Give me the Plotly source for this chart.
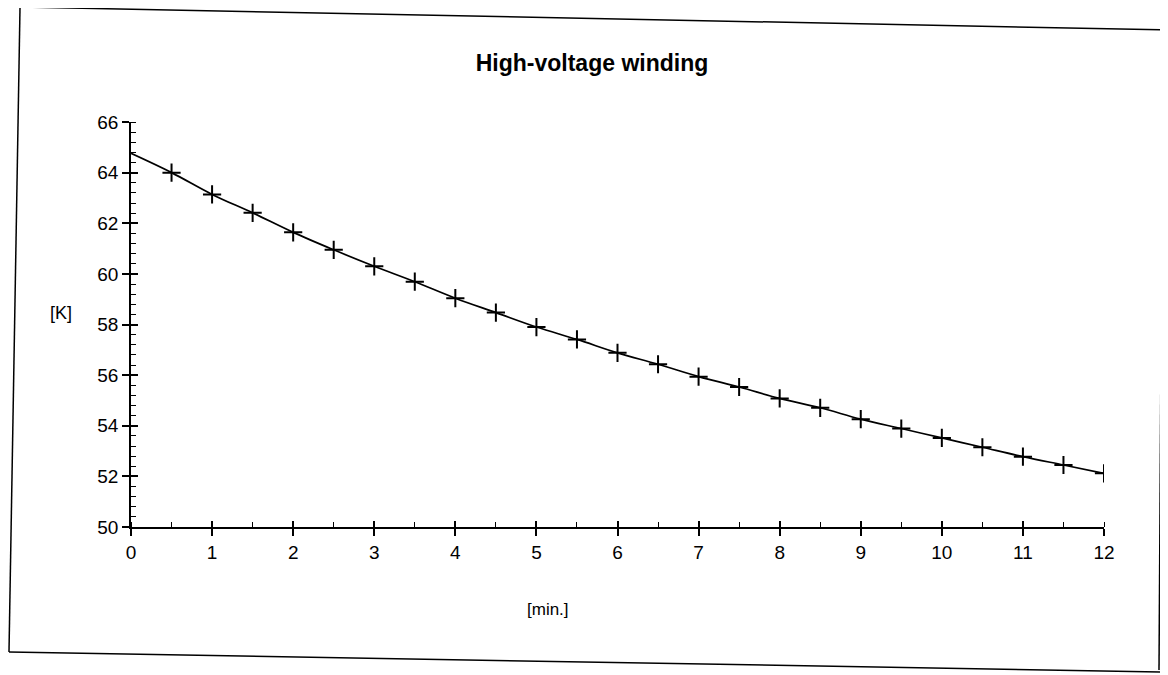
import plotly.graph_objects as go

# ---- data ----
minutes = [0, 0.5, 1, 1.5, 2, 2.5, 3, 3.5, 4, 4.5, 5, 5.5, 6, 6.5, 7, 7.5,
           8, 8.5, 9, 9.5, 10, 10.5, 11, 11.5, 12]
temp_k = [64.76, 64.00, 63.14, 62.41, 61.64, 60.95, 60.30, 59.69, 59.04, 58.47,
          57.90, 57.41, 56.88, 56.43, 55.94, 55.53, 55.08, 54.71, 54.26, 53.89,
          53.52, 53.15, 52.78, 52.45, 52.12]
title_text = "High-voltage winding"
x_title = "[min.]"
y_title = "[K]"

OFF = 8  # default page body margin
W, H = 1168 - OFF, 675 - OFF
# margins expressed in page pixels, converted to figure pixels
ML, MR, MT, MB = 131 - OFF, 64, 122 - OFF, 148
PW, PH = W - ML - MR, H - MT - MB

def px(x):  # page pixel -> paper fraction
    return (x - OFF - ML) / PW

def py(y):
    return (H - MB - (y - OFF)) / PH

FONT = "Liberation Sans, Arial, sans-serif"

fig = go.Figure()
fig.add_trace(go.Scatter(
    x=minutes, y=temp_k, mode="lines",
    line=dict(color="black", width=1.7, shape="spline"),
    showlegend=False, hoverinfo="skip"))
fig.add_trace(go.Scatter(
    x=minutes[1:], y=temp_k[1:], mode="markers",
    marker=dict(symbol="cross-thin", size=13,
                line=dict(color="black", width=2)),
    showlegend=False))
# invisible trace to host the overlay axes (crossing major ticks)
fig.add_trace(go.Scatter(x=minutes, y=temp_k, xaxis="x2", yaxis="y2",
                         mode="lines", line=dict(width=0), opacity=0,
                         showlegend=False, hoverinfo="skip"))

axis_common = dict(showgrid=False, zeroline=False, showline=True,
                   linecolor="black", linewidth=1.5, tickcolor="black",
                   tickwidth=1.5, tickfont=dict(family=FONT, size=19, color="black"))

fig.update_layout(
    width=W, height=H,
    margin=dict(l=ML, r=MR, t=MT, b=MB),
    paper_bgcolor="white", plot_bgcolor="white",
    title=dict(text="<b>" + title_text + "</b>", x=(592 - OFF) / W, xanchor="center",
               y=1 - (63 - OFF) / H, yanchor="middle",
               font=dict(family=FONT, size=23, color="black")),
    xaxis=dict(range=[0, 12], dtick=1, tick0=0, ticks="outside", ticklen=7,
               minor=dict(dtick=0.5, ticks="inside", ticklen=5,
                          tickcolor="black", tickwidth=1.2),
               **axis_common),
    yaxis=dict(range=[50, 66], dtick=2, tick0=50, ticks="outside", ticklen=7,
               minor=dict(dtick=0.4, tick0=50, ticks="inside", ticklen=5,
                          tickcolor="black", tickwidth=1.2),
               **axis_common),
    xaxis2=dict(range=[0, 12], dtick=1, tick0=0, overlaying="x", anchor="y2",
                ticks="inside", ticklen=6, tickcolor="black", tickwidth=1.5,
                showticklabels=False, showgrid=False, zeroline=False, showline=False),
    yaxis2=dict(range=[50, 66], dtick=2, tick0=50, overlaying="y", anchor="x2",
                side="left", ticks="inside", ticklen=7, tickcolor="black",
                tickwidth=1.5, showticklabels=False, showgrid=False,
                zeroline=False, showline=False),
    annotations=[
        dict(text=y_title, xref="paper", yref="paper", x=px(61), y=py(313),
             xanchor="center", yanchor="middle",
             showarrow=False, font=dict(family=FONT, size=18, color="black")),
        dict(text=x_title, xref="paper", yref="paper", x=px(548), y=py(609),
             xanchor="center", yanchor="middle",
             showarrow=False, font=dict(family=FONT, size=17, color="black")),
    ],
)

# scanned page frame (page pixel coordinates)
frame = [((20, 7), (1168, 30)), ((20, 8), (9, 652)),
         ((9, 652), (1160, 672)), ((1163, 30), (1159, 670))]
for (x0, y0), (x1, y1) in frame:
    fig.add_shape(type="line", xref="paper", yref="paper",
                  x0=px(x0), y0=py(y0), x1=px(x1), y1=py(y1),
                  line=dict(color="black", width=1.5))

fig.write_html("out.html")
